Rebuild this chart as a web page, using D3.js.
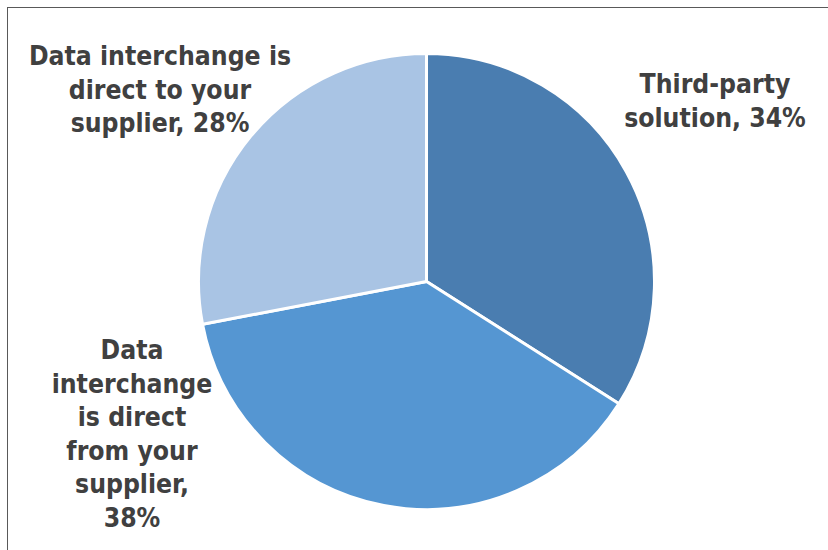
<!DOCTYPE html>
<html>
<head>
<meta charset="utf-8">
<script src="https://cdn.jsdelivr.net/npm/d3@7"></script>
<style>
  html, body { margin: 0; padding: 0; background: #fff; }
  svg { display: block; }
  .lbl { font-family: "DejaVu Sans", sans-serif; font-stretch: condensed; font-weight: bold; fill: #404040; }
</style>
</head>
<body>
<svg id="chart" width="828" height="550"></svg>
<script>
// Slice categories, shares (%) and colours, in clockwise order from 12 o'clock
const categories = [
  "Third-party solution",
  "Data interchange is direct from your supplier",
  "Data interchange is direct to your supplier"
];
const values = [34, 38, 28];
const colors = ["#4A7DB0", "#5596D2", "#A9C4E4"];

// Label text, broken into lines as set on the slide
const labelLines = [
  ["Third-party", "solution, 34%"],
  ["Data", "interchange", "is direct", "from your", "supplier,", "38%"],
  ["Data interchange is", "direct to your", "supplier, 28%"]
];
// Label anchor (centre x, first baseline y)
const labelPos = [
  [715, 93],
  [132, 359],
  [160, 65]
];

const svg = d3.select("#chart");

// frame around the chart area
svg.append("rect")
  .attr("x", 7.5).attr("y", 7.5)
  .attr("width", 1000).attr("height", 1000)
  .attr("fill", "none").attr("stroke", "#595959").attr("stroke-width", 1);

const cx = 426.5, cy = 281.5, r = 228;

const pie = d3.pie().sort(null).value(d => d)(values);
const arc = d3.arc().innerRadius(0).outerRadius(r);

const g = svg.append("g").attr("transform", `translate(${cx},${cy})`);
g.selectAll("path")
  .data(pie)
  .join("path")
  .attr("d", arc)
  .attr("fill", (d, i) => colors[i])
  .attr("stroke", "#fff")
  .attr("stroke-width", 3)
  .attr("stroke-linejoin", "round");

const lineH = 33.5;
labelLines.forEach((lines, i) => {
  const t = svg.append("text")
    .attr("class", "lbl")
    .attr("text-anchor", "middle")
    .attr("font-size", 26.3)
    .attr("x", labelPos[i][0])
    .attr("y", labelPos[i][1]);
  lines.forEach((s, j) => {
    t.append("tspan")
      .attr("x", labelPos[i][0])
      .attr("dy", j === 0 ? 0 : lineH)
      .text(s);
  });
});
</script>
</body>
</html>
